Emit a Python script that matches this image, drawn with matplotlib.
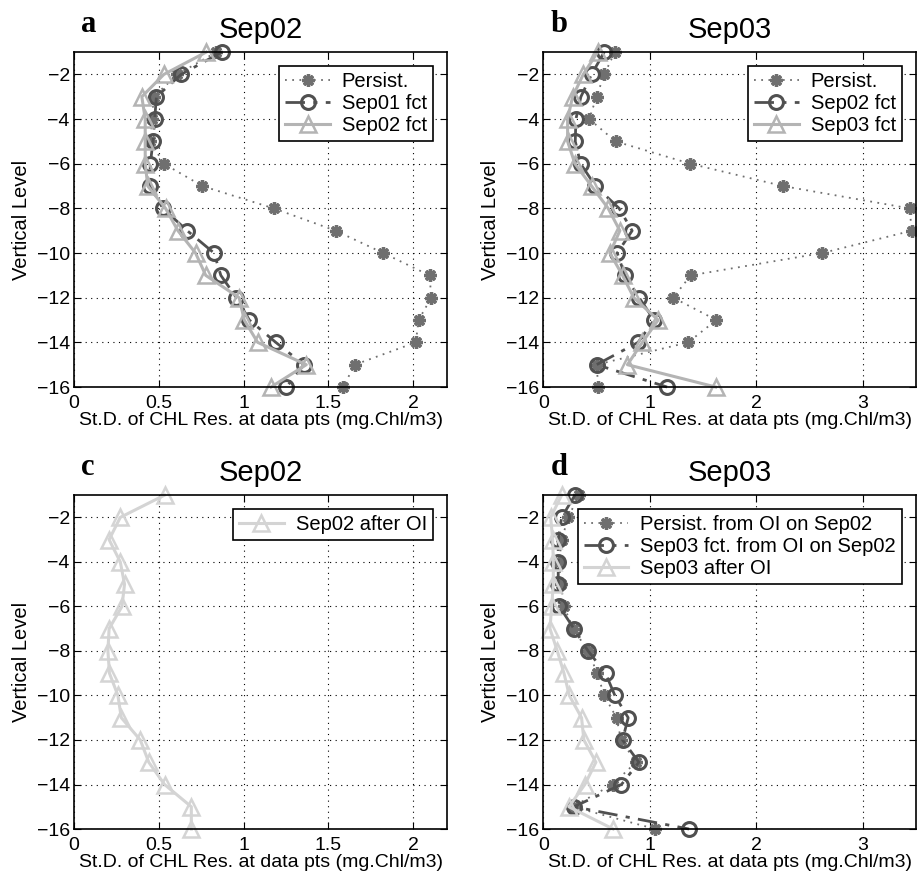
import matplotlib
matplotlib.use("Agg")
import matplotlib.pyplot as plt

plt.rcParams['font.family'] = ['Liberation Sans', 'DejaVu Sans']

levels = list(range(-1, -17, -1))

# panel a (Sep02)
a_persist = [0.84, 0.61, 0.47, 0.46, 0.45, 0.53, 0.757, 1.178, 1.543, 1.824,
             2.097, 2.107, 2.032, 2.016, 1.656, 1.587]
a_sep01 = [0.871, 0.632, 0.486, 0.476, 0.466, 0.45, 0.447, 0.524, 0.668, 0.826,
           0.866, 0.958, 1.034, 1.19, 1.356, 1.253]
a_sep02 = [0.78, 0.53, 0.40, 0.42, 0.42, 0.42, 0.435, 0.54, 0.613, 0.717,
           0.777, 0.974, 1.004, 1.083, 1.37, 1.162]

# panel b (Sep03)
b_persist = [0.672, 0.572, 0.50, 0.431, 0.678, 1.381, 2.25, 3.44, 3.46, 2.62,
             1.384, 1.22, 1.625, 1.36, 0.50, 0.516]
b_sep02 = [0.572, 0.453, 0.353, 0.306, 0.30, 0.35, 0.49, 0.712, 0.834, 0.694,
           0.766, 0.90, 1.04, 0.89, 0.50, 1.162]
b_sep03 = [0.51, 0.375, 0.275, 0.228, 0.228, 0.297, 0.453, 0.609, 0.719, 0.625,
           0.744, 0.85, 1.078, 0.93, 0.79, 1.619]

# panel c (Sep02 after OI)
c_sep02_oi = [0.534, 0.273, 0.207, 0.273, 0.298, 0.283, 0.207, 0.20, 0.209, 0.259,
              0.279, 0.391, 0.441, 0.534, 0.692, 0.692]

# panel d (Sep03, from OI)
d_persist = [0.334, 0.234, 0.172, 0.15, 0.166, 0.194, 0.28, 0.42, 0.506, 0.572,
             0.6875, 0.73, 0.87, 0.65, 0.275, 1.053]
d_sep03 = [0.297, 0.172, 0.14, 0.14, 0.14, 0.15, 0.2875, 0.42, 0.584, 0.672,
           0.797, 0.744, 0.897, 0.734, 0.2875, 1.369]
d_sep03_oi = [0.172, 0.069, 0.0875, 0.094, 0.094, 0.078, 0.0625, 0.131, 0.194, 0.244,
              0.359, 0.381, 0.494, 0.39, 0.24, 0.656]

xlabel = "St.D. of CHL Res. at data pts (mg.Chl/m3)"

star_kw = dict(color='#6f6f6f', linestyle=(0, (1, 3)), linewidth=1.3,
               marker=(8, 2, 0), markersize=9, markeredgewidth=2.4)
circ_kw = dict(color='#505050', linestyle=(0, (7, 3, 1.5, 3)), linewidth=2,
               marker='o', markersize=10, markerfacecolor='none', markeredgewidth=2.2)


def tri_kw(col):
    return dict(color=col, linestyle='-', linewidth=2.2, marker='^', markersize=12,
                markerfacecolor='none', markeredgewidth=1.8)


def style(ax, xmax, xticks, xticklabels, title, letter):
    ax.set_xlim(0, xmax)
    ax.set_ylim(-16, -1)
    ax.set_xticks(xticks)
    ax.set_xticklabels(xticklabels)
    ax.set_yticks(range(-16, -1, 2))
    ax.tick_params(direction='in', top=True, right=True, labelsize=14, length=5, pad=3)
    ax.tick_params(axis='x', pad=6)
    ax.grid(True, color='k', linestyle=(0, (1, 4)), linewidth=0.8)
    for s in ax.spines.values():
        s.set_linewidth(1.2)
    ax.set_ylabel("Vertical Level", fontsize=14.5, labelpad=4)
    ax.set_xlabel(xlabel, fontsize=14, labelpad=0)
    ax.set_title(title, fontsize=21, pad=10)
    ax.text(0.02, 1.04, letter, transform=ax.transAxes, fontsize=22, fontweight='bold',
            family='Liberation Serif', va='bottom', ha='left')


fig = plt.figure(figsize=(9.17, 8.81), dpi=100)
ax_a = fig.add_axes([0.0807, 0.5607, 0.4068, 0.3802])
ax_b = fig.add_axes([0.5925, 0.5607, 0.4064, 0.3802])
ax_c = fig.add_axes([0.0807, 0.0590, 0.4068, 0.3790])
ax_d = fig.add_axes([0.5925, 0.0590, 0.4064, 0.3790])

ax_a.plot(a_persist, levels, label="Persist.", clip_on=False, **star_kw)
ax_a.plot(a_sep01, levels, label="Sep01 fct", clip_on=False, **circ_kw)
ax_a.plot(a_sep02, levels, label="Sep02 fct", clip_on=False, **tri_kw('#b4b4b4'))
style(ax_a, 2.2, [0, 0.5, 1, 1.5, 2], ['0', '0.5', '1', '1.5', '2'], "Sep02", "a")

ax_b.plot(b_persist, levels, label="Persist.", clip_on=False, **star_kw)
ax_b.plot(b_sep02, levels, label="Sep02 fct", clip_on=False, **circ_kw)
ax_b.plot(b_sep03, levels, label="Sep03 fct", clip_on=False, **tri_kw('#b4b4b4'))
style(ax_b, 3.5, [0, 1, 2, 3], ['0', '1', '2', '3'], "Sep03", "b")

ax_c.plot(c_sep02_oi, levels, label="Sep02 after OI", clip_on=False, **tri_kw('#d4d4d4'))
style(ax_c, 2.2, [0, 0.5, 1, 1.5, 2], ['0', '0.5', '1', '1.5', '2'], "Sep02", "c")

ax_d.plot(d_persist, levels, label="Persist. from OI on Sep02", clip_on=False, **star_kw)
ax_d.plot(d_sep03, levels, label="Sep03 fct. from OI on Sep02", clip_on=False, **circ_kw)
ax_d.plot(d_sep03_oi, levels, label="Sep03 after OI", clip_on=False, **tri_kw('#d4d4d4'))
style(ax_d, 3.5, [0, 1, 2, 3], ['0', '1', '2', '3'], "Sep03", "d")

for ax in (ax_a, ax_b, ax_c, ax_d):
    leg = ax.legend(loc='upper right', fontsize=14.5, frameon=True, fancybox=False,
                    borderaxespad=0.7, handlelength=2.2, handletextpad=0.6,
                    labelspacing=0.15, borderpad=0.3)
    leg.get_frame().set_edgecolor('k')
    leg.get_frame().set_linewidth(1.2)
    leg.get_frame().set_alpha(1)

fig.savefig("out.png", dpi=100)
